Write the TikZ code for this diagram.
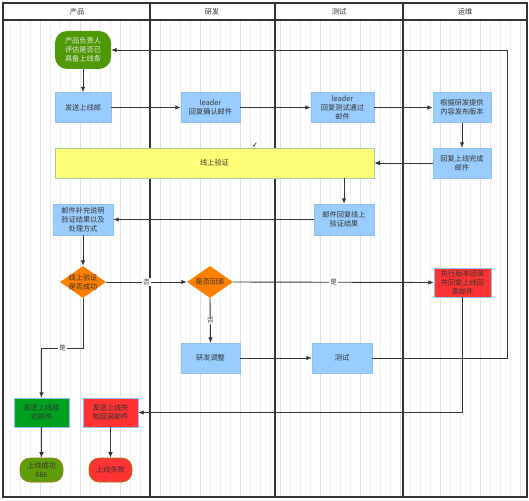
\documentclass[tikz,border=0pt]{standalone}
\usepackage{fontspec}
\setmainfont{Noto Sans CJK SC}
\newfontfamily\symfont{DejaVu Sans}
\usetikzlibrary{arrows.meta,shapes.geometric}
\definecolor{ln}{HTML}{333333}
\definecolor{bluebox}{HTML}{99CCFF}
\definecolor{blueedge}{HTML}{8EC0F0}
\definecolor{yel}{HTML}{FFFF77}
\definecolor{yeledge}{HTML}{A8C8A0}
\definecolor{grn}{HTML}{4E9A06}
\definecolor{grnend}{HTML}{5E9E0A}
\definecolor{dkgrn}{HTML}{00A020}
\definecolor{redf}{HTML}{FF3333}
\definecolor{olive}{HTML}{9C7A0A}
\definecolor{orng}{HTML}{FF8000}
\definecolor{txt}{HTML}{333333}
\tikzset{
  every node/.style={font=\fontsize{7.2}{9}\selectfont, text=txt, align=center, inner sep=0pt},
  box/.style={draw=blueedge, line width=0.4pt, fill=bluebox},
  redbox/.style={draw=blueedge, line width=0.4pt, fill=redf},
  conn/.style={draw=ln, line width=0.9pt, -{Latex[length=5.5pt,width=4.5pt]}},
  dia/.style={diamond, fill=orng, inner sep=0pt},
  lab/.style={fill=white, inner sep=1pt, font=\fontsize{6.5}{8}\selectfont},
  lane/.style={draw=ln, line width=1.1pt}
}
\begin{document}
\begin{tikzpicture}[x=1pt,y=-1pt]
\useasboundingbox (0,0) rectangle (529,500);
\fill[white] (0,0) rectangle (529,500);
% grid
\begin{scope}
\clip (3,20) rectangle (527,497);
\draw[gray!13, line width=0.3pt, step=10] (0,20) grid (530,500);
\draw[gray!24, line width=0.3pt, step=40] (0,20) grid (530,500);
\end{scope}
% lanes
\draw[lane, line width=1.4pt] (3,3) rectangle (527,497);
\draw[lane] (3,20) -- (527,20);
\draw[lane] (150,3) -- (150,497);
\draw[lane] (275,3) -- (275,497);
\draw[lane] (403,3) -- (403,497);
\node (h1) at (77,12) {产品};
\node (h2) at (212,12) {研发};
\node (h3) at (339,12) {测试};
\node (h4) at (465,12) {运维};

% nodes
\node[fill=grn, rounded corners=12pt, minimum width=56, minimum height=38, text=white!92!black] (start) at (83,50) {产品负责人\\评估是否已\\具备上线条};
\node[box, minimum width=56, minimum height=30] (send) at (83,107.5) {发送上线邮};
\node[box, minimum width=59, minimum height=30] (lead1) at (210.5,107.5) {leader\\回复确认邮件};
\node[box, minimum width=63, minimum height=30] (lead2) at (342.5,107.5) {leader\\回复测试通过\\邮件};
\node[box, minimum width=58, minimum height=30] (deploy) at (462,107.5) {根据研发提供\\内容发布版本};
\node[box, minimum width=58, minimum height=30] (done) at (462,163) {回复上线完成\\邮件};
\node[draw=yeledge, line width=0.5pt, fill=yel, minimum width=319, minimum height=30] (verify) at (214.5,163) {线上验证};
\node[font=\symfont\fontsize{7}{8}\selectfont, text=black] (chk) at (255,145) {✓};
\node[box, minimum width=60, minimum height=31] (reply) at (344,219.5) {邮件回复线上\\验证结果};
\node[box, minimum width=60, minimum height=31] (supp) at (83,219.5) {邮件补充说明\\验证结果以及\\处理方式};
\node[dia, minimum width=46, minimum height=32] (d1) at (83,282) {};
\node (d1t) at (83,282) {线上验证\\是否成功};
\node[dia, minimum width=46, minimum height=32] (d2) at (210,282) {};
\node (d2t) at (210,282) {是否回滚};
\node[redbox, minimum width=57, minimum height=29] (rollback) at (462.5,282.5) {执行版本回滚\\并回复上线回\\滚邮件};
\node[box, minimum width=59, minimum height=30] (adjust) at (210.5,358) {研发调整};
\node[box, minimum width=60, minimum height=30] (test) at (342,358) {测试};
\node[draw=blueedge, line width=0.4pt, fill=dkgrn, minimum width=55, minimum height=29] (okmail) at (41.5,412.5) {发送上线成\\功邮件};
\node[redbox, minimum width=55, minimum height=29] (failmail) at (110.5,412.5) {发送上线失\\败回滚邮件};
\node[draw=olive, line width=0.6pt, fill=grnend, rounded corners=10pt, minimum width=43, minimum height=24] (okend) at (41.5,470) {上线成功\\666};
\node[draw=olive, line width=0.6pt, fill=redf, rounded corners=10pt, minimum width=43, minimum height=24] (failend) at (110.5,470) {上线失败};

% connectors
\coordinate (rt) at (507,50);
\coordinate (yesc) at (83,348);
\draw[conn] (start) -- (send);
\draw[conn] (send) -- (lead1);
\draw[conn] (lead1) -- (lead2);
\draw[conn] (lead2) -- (deploy);
\draw[conn] (deploy) -- (done);
\draw[conn] (done) -- (verify);
\draw[conn] (reply.north |- verify.south) -- (reply.north);
\draw[conn] (reply) -- (supp);
\draw[conn] (supp) -- (d1.north);
\draw[conn] (d1.east) -- node[lab] (no1) {否} (d2.west);
\draw[conn] (d2.east) -- node[lab] (yes2) {是} (rollback.west);
\draw[conn] (d2.south) -- node[lab] (no2) {否} (adjust.north);
\draw[conn] (adjust) -- (test);
\draw[conn] (test.east) -| (rt) -- (start.east);
\draw[conn] (d1.south) -- (yesc) -| node[lab, pos=0.25] (yes1) {是} (okmail.north);
\draw[conn] (rollback.south) |- (failmail.east);
\draw[conn] (okmail) -- (okend);
\draw[conn] (failmail) -- (failend);
\end{tikzpicture}
\end{document}
